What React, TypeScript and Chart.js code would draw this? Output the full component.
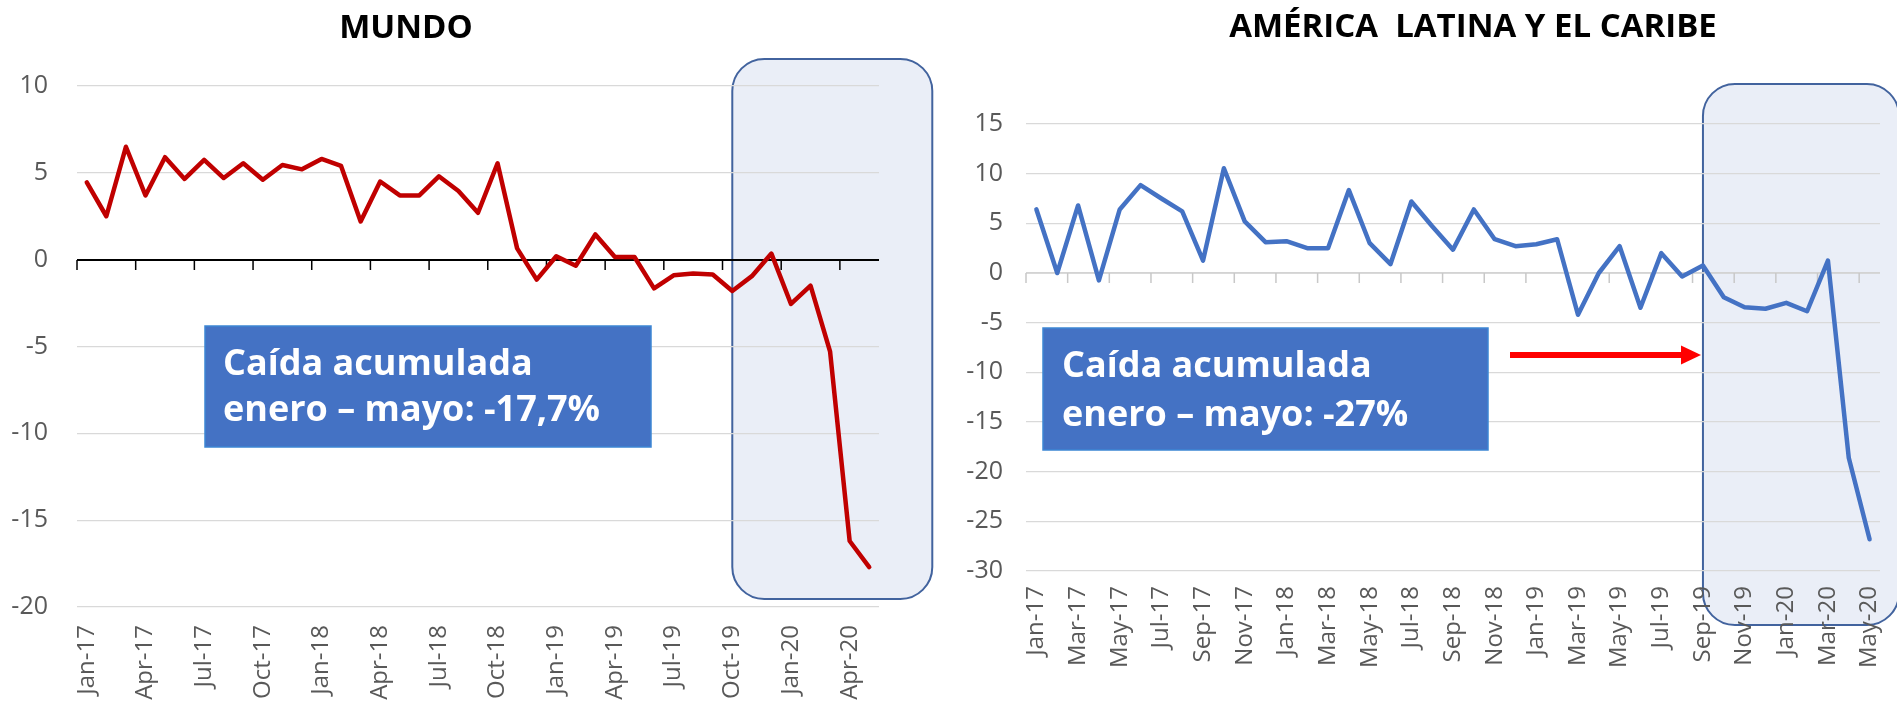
import React, { useEffect, useRef } from 'react';
import { Chart, registerables } from 'chart.js';

Chart.register(...registerables);

const monthLabels = [
  'Jan-17', 'Feb-17', 'Mar-17', 'Apr-17', 'May-17', 'Jun-17', 'Jul-17', 'Aug-17', 'Sep-17', 'Oct-17', 'Nov-17', 'Dec-17',
  'Jan-18', 'Feb-18', 'Mar-18', 'Apr-18', 'May-18', 'Jun-18', 'Jul-18', 'Aug-18', 'Sep-18', 'Oct-18', 'Nov-18', 'Dec-18',
  'Jan-19', 'Feb-19', 'Mar-19', 'Apr-19', 'May-19', 'Jun-19', 'Jul-19', 'Aug-19', 'Sep-19', 'Oct-19', 'Nov-19', 'Dec-19',
  'Jan-20', 'Feb-20', 'Mar-20', 'Apr-20', 'May-20',
];

const mundoValues = [
  4.45, 2.5, 6.5, 3.7, 5.9, 4.65, 5.75, 4.7, 5.55, 4.6, 5.45, 5.2,
  5.8, 5.4, 2.2, 4.5, 3.7, 3.7, 4.8, 3.95, 2.7, 5.55, 0.65, -1.15,
  0.2, -0.35, 1.45, 0.15, 0.15, -1.65, -0.9, -0.8, -0.85, -1.8, -0.95, 0.35,
  -2.55, -1.5, -5.3, -16.2, -17.7,
];

const latamValues = [
  6.4, 0.0, 6.8, -0.75, 6.4, 8.85, 7.5, 6.2, 1.25, 10.55, 5.2, 3.1,
  3.2, 2.5, 2.5, 8.35, 3.0, 0.9, 7.2, 4.7, 2.35, 6.4, 3.4, 2.7,
  2.9, 3.4, -4.2, 0.0, 2.7, -3.5, 2.0, -0.35, 0.75, -2.45, -3.45, -3.6,
  -3.0, -3.85, 1.25, -18.6, -26.8,
];

const mundoYTicks = [10, 5, 0, -5, -10, -15, -20];
const latamYTicks = [15, 10, 5, 0, -5, -10, -15, -20, -25, -30];

const mundoTitle = 'MUNDO';
const latamTitle = 'AMÉRICA  LATINA Y EL CARIBE';
const mundoNote = ['Caída acumulada', 'enero – mayo: -17,7%'];
const latamNote = ['Caída acumulada', 'enero – mayo: -27%'];

const FONT = '"Open Sans", "DejaVu Sans", sans-serif';

function roundedRect(ctx: CanvasRenderingContext2D, x: number, y: number, w: number, h: number, r: number) {
  ctx.beginPath();
  ctx.moveTo(x + r, y);
  ctx.lineTo(x + w - r, y);
  ctx.arcTo(x + w, y, x + w, y + r, r);
  ctx.lineTo(x + w, y + h - r);
  ctx.arcTo(x + w, y + h, x + w - r, y + h, r);
  ctx.lineTo(x + r, y + h);
  ctx.arcTo(x, y + h, x, y + h - r, r);
  ctx.lineTo(x, y + r);
  ctx.arcTo(x, y, x + r, y, r);
  ctx.closePath();
}

type OverlayCfg = {
  title: string;
  titleX: number;
  titleY: number;
  titleSize: number;
  highlightIndex: number;
  highlightWidth: number;
  highlightTop: number;
  highlightBottom: number;
  zeroColor: string;
  zeroWidth: number;
  tickColor: string;
  tickEvery: number;
  note: string[];
  noteBox: [number, number, number, number];
  noteTextX: number;
  noteBaselines: [number, number];
  noteSize: number;
  arrow?: [number, number, number];
};

function makeOverlay(cfg: OverlayCfg) {
  return {
    id: 'overlay',
    beforeDraw(chart: any) {
      const { ctx, scales } = chart;
      const left = scales.x.getPixelForValue(cfg.highlightIndex);
      ctx.save();
      roundedRect(ctx, left, cfg.highlightTop, cfg.highlightWidth, cfg.highlightBottom - cfg.highlightTop, 32);
      ctx.fillStyle = '#EAEEF7';
      ctx.fill();
      ctx.lineWidth = 2;
      ctx.strokeStyle = '#42639E';
      ctx.stroke();
      ctx.restore();
    },
    beforeDatasetsDraw(chart: any) {
      const { ctx, chartArea, scales } = chart;
      const x = scales.x;
      const y0 = Math.round(scales.y.getPixelForValue(0));
      ctx.save();
      ctx.strokeStyle = cfg.zeroColor;
      ctx.lineWidth = cfg.zeroWidth;
      ctx.beginPath();
      ctx.moveTo(chartArea.left, y0);
      ctx.lineTo(chartArea.right, y0);
      ctx.stroke();
      const half = (x.getPixelForValue(1) - x.getPixelForValue(0)) / 2;
      ctx.strokeStyle = cfg.tickColor;
      ctx.lineWidth = 1.5;
      ctx.beginPath();
      for (let i = 0; i < monthLabels.length; i += cfg.tickEvery) {
        const px = x.getPixelForValue(i) - half;
        ctx.moveTo(px, y0);
        ctx.lineTo(px, y0 + 10);
      }
      ctx.stroke();
      ctx.restore();
    },
    afterDraw(chart: any) {
      const { ctx } = chart;
      ctx.save();
      ctx.fillStyle = '#000000';
      ctx.font = `bold ${cfg.titleSize}px ${FONT}`;
      ctx.textAlign = 'center';
      ctx.textBaseline = 'alphabetic';
      ctx.fillText(cfg.title, cfg.titleX, cfg.titleY);
      const [bx, by, bw, bh] = cfg.noteBox;
      ctx.fillStyle = '#4472C4';
      ctx.fillRect(bx, by, bw, bh);
      ctx.strokeStyle = '#3D86D4';
      ctx.lineWidth = 1.5;
      ctx.strokeRect(bx, by, bw, bh);
      ctx.fillStyle = '#FFFFFF';
      ctx.font = `bold ${cfg.noteSize}px ${FONT}`;
      ctx.textAlign = 'left';
      ctx.fillText(cfg.note[0], cfg.noteTextX, cfg.noteBaselines[0]);
      ctx.fillText(cfg.note[1], cfg.noteTextX, cfg.noteBaselines[1]);
      if (cfg.arrow) {
        const [x1, x2, ay] = cfg.arrow;
        ctx.fillStyle = '#FF0000';
        ctx.fillRect(x1, ay - 3, x2 - x1 - 19, 6);
        ctx.beginPath();
        ctx.moveTo(x2 - 20, ay - 9.5);
        ctx.lineTo(x2, ay);
        ctx.lineTo(x2 - 20, ay + 9.5);
        ctx.closePath();
        ctx.fill();
      }
      ctx.restore();
    },
  };
}

function buildConfig(opts: {
  values: number[];
  color: string;
  yTicks: number[];
  every: number;
  padTop: number;
  padRight: number;
  yWidth: number;
  yPad: number;
  xHeight: number;
  xPad: number;
  overlay: OverlayCfg;
}) {
  return {
    type: 'line' as const,
    data: {
      labels: monthLabels,
      datasets: [
        {
          data: opts.values,
          borderColor: opts.color,
          borderWidth: 4.5,
          pointRadius: 0,
          tension: 0,
          fill: false,
          borderJoinStyle: 'round' as const,
          borderCapStyle: 'round' as const,
        },
      ],
    },
    options: {
      responsive: false,
      animation: false as const,
      layout: { padding: { top: opts.padTop, right: opts.padRight, left: 0, bottom: 0 } },
      plugins: { legend: { display: false }, tooltip: { enabled: false }, title: { display: false } },
      scales: {
        x: {
          type: 'category' as const,
          offset: true,
          grid: { display: false, drawTicks: false },
          border: { display: false },
          ticks: {
            autoSkip: false,
            minRotation: 90,
            maxRotation: 90,
            padding: opts.xPad,
            color: '#595959',
            font: { family: FONT, size: 24 },
            callback: (_v: any, i: number) => (i % opts.every === 0 ? monthLabels[i] : null),
          },
          afterFit: (s: any) => {
            s.height = opts.xHeight;
            s.paddingLeft = 0;
            s.paddingRight = 0;
          },
        },
        y: {
          min: Math.min(...opts.yTicks),
          max: Math.max(...opts.yTicks),
          grid: { color: '#D9D9D9', lineWidth: 1.3, drawTicks: false },
          border: { display: false },
          ticks: {
            stepSize: 5,
            padding: opts.yPad,
            color: '#595959',
            font: { family: FONT, size: 25 },
          },
          afterFit: (s: any) => {
            s.width = opts.yWidth;
            s.paddingTop = 0;
            s.paddingBottom = 0;
          },
        },
      },
    },
    plugins: [makeOverlay(opts.overlay)],
  };
}

export default function App() {
  const leftRef = useRef<HTMLCanvasElement>(null);
  const rightRef = useRef<HTMLCanvasElement>(null);

  useEffect(() => {
    document.body.style.margin = '0';
    const charts: Chart[] = [];
    const left = new Chart(
      leftRef.current as HTMLCanvasElement,
      buildConfig({
        values: mundoValues,
        color: '#C00000',
        yTicks: mundoYTicks,
        every: 3,
        padTop: 86,
        padRight: 61,
        yWidth: 77,
        yPad: 29,
        xHeight: 104,
        xPad: 18,
        overlay: {
          title: mundoTitle,
          titleX: 406,
          titleY: 38,
          titleSize: 33,
          highlightIndex: 33,
          highlightWidth: 200,
          highlightTop: 59,
          highlightBottom: 599,
          zeroColor: '#000000',
          zeroWidth: 2,
          tickColor: '#000000',
          tickEvery: 3,
          note: mundoNote,
          noteBox: [205, 326, 446, 121],
          noteTextX: 223,
          noteBaselines: [375, 421],
          noteSize: 36,
        },
      }) as any
    );
    charts.push(left);
    const right = new Chart(
      rightRef.current as HTMLCanvasElement,
      buildConfig({
        values: latamValues,
        color: '#4472C4',
        yTicks: latamYTicks,
        every: 2,
        padTop: 124,
        padRight: 17,
        yWidth: 86,
        yPad: 23,
        xHeight: 140,
        xPad: 15,
        overlay: {
          title: latamTitle,
          titleX: 533,
          titleY: 37,
          titleSize: 33,
          highlightIndex: 32,
          highlightWidth: 196,
          highlightTop: 84,
          highlightBottom: 625,
          zeroColor: '#D0D0D0',
          zeroWidth: 1.5,
          tickColor: '#C8C8C8',
          tickEvery: 2,
          note: latamNote,
          noteBox: [103, 328, 445, 122],
          noteTextX: 122,
          noteBaselines: [377, 426],
          noteSize: 36,
          arrow: [570, 761, 355],
        },
      }) as any
    );
    charts.push(right);
    return () => {
      charts.forEach((c) => c.destroy());
    };
  }, []);

  return (
    <div style={{ position: 'relative', width: 1897, height: 711, background: '#ffffff', overflow: 'hidden' }}>
      <canvas ref={leftRef} width={940} height={711} style={{ position: 'absolute', left: 0, top: 0, width: 940, height: 711 }} />
      <canvas ref={rightRef} width={957} height={711} style={{ position: 'absolute', left: 940, top: 0, width: 957, height: 711 }} />
    </div>
  );
}
